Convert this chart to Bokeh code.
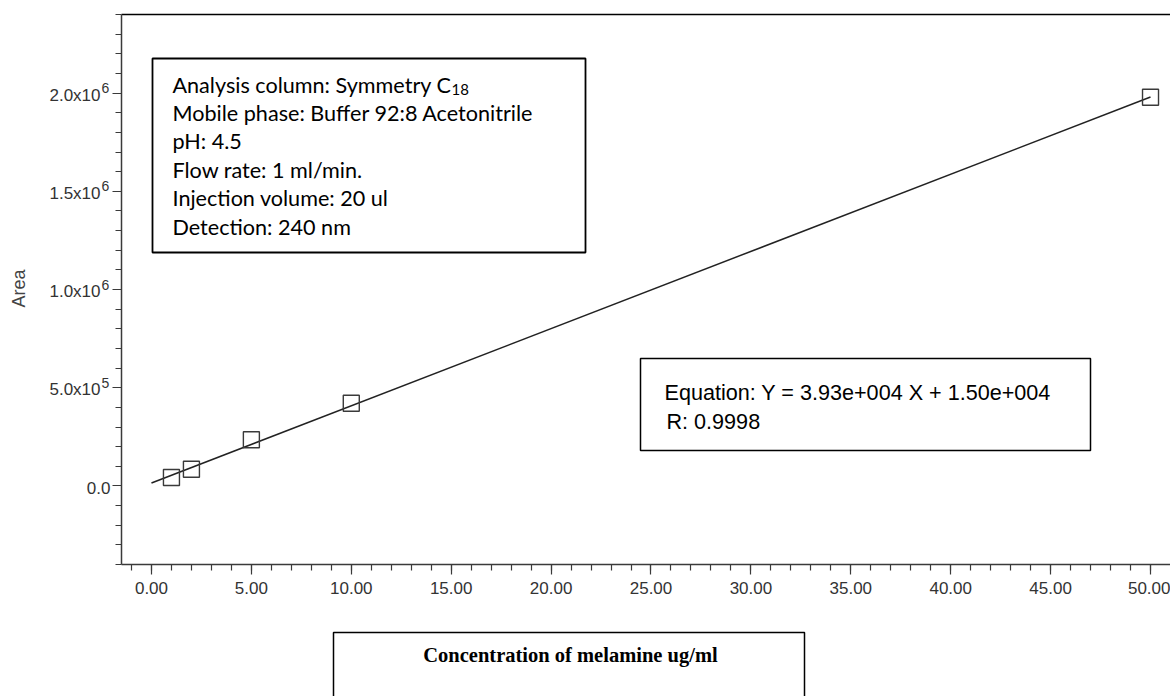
from bokeh.plotting import figure
from bokeh.models import (FixedTicker, NumeralTickFormatter, Label, BoxAnnotation, Range1d, LinearAxis)
from bokeh.embed import file_html
from bokeh.resources import INLINE
import math

# ---- data ----
conc = [1, 2, 5, 10, 50]                       # ug/ml
area = [43000, 85000, 235000, 421000, 1979000]  # peak area
fit_x = [0, 50]
fit_y = [15000, 1980000]                         # Y = 3.93e4 X + 1.50e4

x_major = [0, 5, 10, 15, 20, 25, 30, 35, 40, 45, 50]
x_minor = list(range(-1, 51))
y_major = [0, 500000, 1000000, 1500000, 2000000]
y_minor = list(range(-400000, 2400001, 100000))
y_mant = ["0.0", "5.0x10", "1.0x10", "1.5x10", "2.0x10"]
y_exp = ["", "5", "6", "6", "6"]

info_lines = ["Analysis column: Symmetry C",
              "Mobile phase: Buffer 92:8 Acetonitrile",
              "pH: 4.5",
              "Flow rate: 1 ml/min.",
              "Injection volume: 20 ul",
              "Detection: 240 nm"]
info_sub = "18"
eq_lines = ["Equation: Y = 3.93e+004 X + 1.50e+004", "R: 0.9998"]
x_title = "Concentration of melamine ug/ml"
y_title = "Area"

# ---- layout (pixel geometry of the plotting area) ----
W, H = 1170, 696
L, R, T, B = 121, 1170, 14, 564
X0, X1 = -1.5, 51.0
Y0, Y1 = -400000, 2400000

def X(px):
    return X0 + (px - L) / (R - L) * (X1 - X0)

def Y(py):
    return Y0 + (B - py) / (B - T) * (Y1 - Y0)

p = figure(width=W, height=H, x_range=Range1d(X(0), X(W)), y_range=Range1d(Y(H), Y(0)),
           output_backend="svg", toolbar_location=None,
           x_axis_location=None, y_axis_location=None, min_border=0)
p.outline_line_color = None
p.grid.visible = False
p.background_fill_color = "white"
p.border_fill_color = "white"

axis_col = "#3a3a3a"
lab_col = "#333333"

def style_ticks(ax):
    ax.major_tick_in = 0
    ax.minor_tick_in = 0
    ax.major_tick_line_color = axis_col
    ax.minor_tick_line_color = axis_col
    ax.major_tick_line_width = 1.2
    ax.minor_tick_line_width = 1.2

# x axis
xaxis = LinearAxis(fixed_location=Y0, bounds=(X0, X1),
                   ticker=FixedTicker(ticks=x_major, minor_ticks=x_minor),
                   formatter=NumeralTickFormatter(format="0.00"))
style_ticks(xaxis)
xaxis.axis_line_color = axis_col
xaxis.axis_line_width = 1.5
xaxis.major_tick_out = 10
xaxis.minor_tick_out = 6
xaxis.major_label_standoff = 7
xaxis.major_label_text_font = "Liberation Sans"
xaxis.major_label_text_font_size = "17px"
xaxis.major_label_text_color = lab_col
p.add_layout(xaxis, "below")

# y axis: minor ticks + axis line
yaxis = LinearAxis(fixed_location=X0, bounds=(Y0, Y1),
                   ticker=FixedTicker(ticks=[], minor_ticks=y_minor))
style_ticks(yaxis)
yaxis.axis_line_color = axis_col
yaxis.axis_line_width = 1.5
yaxis.minor_tick_out = 6
p.add_layout(yaxis, "left")

# y axis: longer ticks at the labelled values
yaxis2 = LinearAxis(fixed_location=X0, bounds=(Y0, Y1),
                    ticker=FixedTicker(ticks=[], minor_ticks=y_major))
style_ticks(yaxis2)
yaxis2.axis_line_color = None
yaxis2.minor_tick_out = 9
p.add_layout(yaxis2, "left")

# top frame line
top = LinearAxis(fixed_location=Y1, bounds=(X0, X1),
                 ticker=FixedTicker(ticks=[], minor_ticks=[]))
top.axis_line_color = "black"
top.axis_line_width = 1.5
top.major_tick_out = 0
top.minor_tick_out = 0
p.add_layout(top, "above")

# data
p.line(fit_x, fit_y, line_color="#222222", line_width=1.5)
p.scatter(conc, area, marker="square", size=16, fill_color=None,
          line_color="#3a3a3a", line_width=1.4)

# y tick labels with superscript exponents
for v, m, e in zip(y_major, y_mant, y_exp):
    right_px = 100 if e else 110
    p.add_layout(Label(x=X(right_px), y=v, text=m, text_align="right",
                       text_baseline="middle", y_offset=-2,
                       text_font="Liberation Sans", text_font_size="17px",
                       text_color=lab_col))
    if e:
        p.add_layout(Label(x=X(right_px + 1), y=v, text=e, text_align="left",
                           text_baseline="middle", y_offset=5,
                           text_font="Liberation Sans", text_font_size="14px",
                           text_color=lab_col))

# y title
p.add_layout(Label(x=X(18), y=Y(288), text=y_title, angle=math.pi / 2,
                   text_align="center", text_baseline="middle",
                   text_font="Liberation Sans", text_font_size="18px",
                   text_color="#444444"))

# info box
p.add_layout(BoxAnnotation(left=X(152), right=X(585), top=Y(58), bottom=Y(252),
                           fill_alpha=0, line_color="black", line_alpha=1, line_width=1.8))
for i, t in enumerate(info_lines):
    p.add_layout(Label(x=X(172), y=Y(84 + 28.4 * i), text=t, text_align="left",
                       text_baseline="middle", text_font="Lato",
                       text_font_size="21.6px", text_color="black"))
p.add_layout(Label(x=X(451), y=Y(89), text=info_sub, text_align="left",
                   text_baseline="middle", text_font="Lato",
                   text_font_size="15px", text_color="black"))

# equation box
p.add_layout(BoxAnnotation(left=X(640), right=X(1090), top=Y(358), bottom=Y(450),
                           fill_alpha=0, line_color="black", line_alpha=1, line_width=1.5))
for i, t in enumerate(eq_lines):
    p.add_layout(Label(x=X(664 + 2 * i), y=Y(392 + 29 * i), text=t, text_align="left",
                       text_baseline="middle", text_font="Liberation Sans",
                       text_font_size="21.6px", text_color="black"))

# x title box (its lower edge falls outside the picture)
p.add_layout(BoxAnnotation(left=X(333), right=X(804), top=Y(632), bottom=Y(730),
                           fill_alpha=0, line_color="black", line_alpha=1, line_width=1.5))
p.add_layout(Label(x=X(570), y=Y(654), text=x_title, text_align="center",
                   text_baseline="middle", text_font="Liberation Serif",
                   text_font_size="20.5px", text_font_style="bold", text_color="black"))

open("out.html", "w").write(file_html(p, INLINE))
